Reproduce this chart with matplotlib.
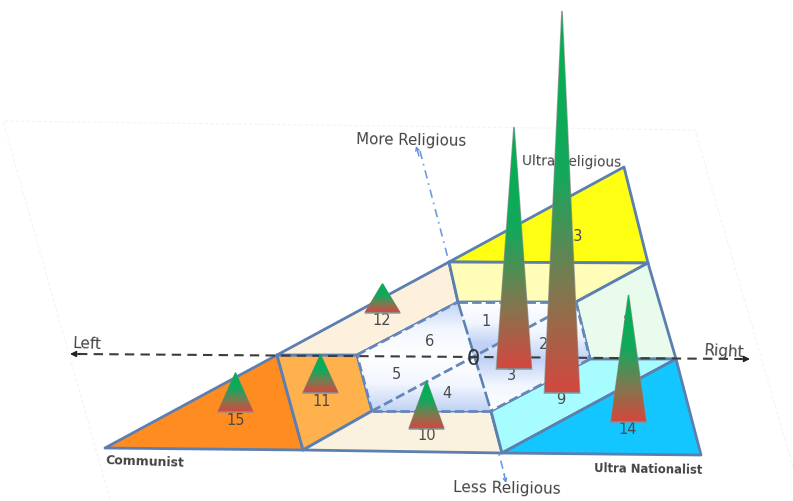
import numpy as np
import matplotlib
matplotlib.use("Agg")
import matplotlib.pyplot as plt
from matplotlib.colors import LinearSegmentedColormap
from matplotlib.patches import Polygon

# Party blocks on the tilted political map (x, y in canvas units, y down)
region_names = ["communist", "left", "low_left", "up_left", "ultra_rel", "rel", "right", "low_right", "nationalist"]
region_colors = ["#FF8C21", "#FFB14D", "#FAF2DE", "#FDF0DC", "#FFFF14", "#FFFDB8", "#E8FBEC", "#A6FCFF", "#14C6FF"]
region_shapes = [
    [(105, 449), (277, 356), (303, 451)],
    [(277, 356), (357, 356), (372, 412), (303, 451)],
    [(372, 412), (491, 412), (502, 454), (303, 451)],
    [(277, 356), (449, 263), (458, 303), (357, 356)],
    [(449, 263), (624, 168), (648, 264)],
    [(449, 263), (648, 264), (576, 303), (458, 303)],
    [(576, 303), (648, 264), (676, 360), (590, 360)],
    [(491, 412), (590, 360), (676, 360), (502, 454)],
    [(502, 454), (676, 360), (701, 456)],
]

# Central cells: outer corners around the origin, and where the gradient runs white -> blue
origin = (473, 358)
cell_shapes = [
    [(458, 303), (576, 303), origin],
    [(576, 303), (590, 360), origin],
    [origin, (590, 360), (491, 412)],
    [origin, (491, 412), (372, 412)],
    [(357, 356), origin, (372, 412)],
    [(357, 356), (458, 303), origin],
]
cell_gradients = [(302, 345), (305, 362), (412, 360), (360, 412), (356, 412), (356, 303)]

# Party cones
party_ids = [3, 9, 14, 10, 12, 11, 15]
cone_x = [514, 562, 628.5, 426.5, 382.5, 320.5, 235.5]
cone_base = [369, 393, 422, 429, 313, 393, 412]
cone_height = [242, 382, 127, 48, 29, 38, 39]

# Numbers written on the map
label_text = ["1", "2", "3", "4", "5", "6", "8", "9", "10", "11", "12", "13", "14", "15"]
label_x = [486, 544, 511, 447, 396, 430, 628, 561, 427, 322, 382, 574, 628, 236]
label_y = [322, 345, 376, 394, 375, 342, 322, 400, 436, 402, 321, 237, 430, 421]

CONE_HALF_WIDTH = 17.5
EDGE_DARK = "#5B7FB0"

fig = plt.figure(figsize=(7.93, 5.02), dpi=100)
ax = fig.add_axes([0, 0, 1, 1])
ax.set_xlim(0, 793)
ax.set_ylim(502, 0)
ax.set_autoscale_on(False)
ax.axis("off")


def vertical_fill(shape, cmap, y0, y1, z):
    """Fill a polygon with a colour ramp running from y0 to y1."""
    pts = np.array(shape, float)
    extent = (pts[:, 0].min(), pts[:, 0].max(), pts[:, 1].max(), pts[:, 1].min())
    rows = np.linspace(extent[3], extent[2], 160)
    ramp = np.clip((rows - y0) / (y1 - y0), 0, 1)[:, None]
    im = ax.imshow(ramp, cmap=cmap, vmin=0, vmax=1, extent=extent, origin="upper",
                   aspect="auto", zorder=z, interpolation="bilinear")
    im.set_clip_path(Polygon(pts, transform=ax.transData))
    ax.set_xlim(0, 793)
    ax.set_ylim(502, 0)


# Faint sheet on which the map lies
sheet_x = [110, 3, 695, 793]
sheet_y = [500, 122, 131, 468]
ax.plot(sheet_x, sheet_y, color="#F3F3F3", lw=0.8, ls=(0, (3, 2)), zorder=1)

for shape, color in zip(region_shapes, region_colors):
    ax.add_patch(Polygon(shape, closed=True, facecolor=color, edgecolor=EDGE_DARK, lw=2.0,
                         joinstyle="round", zorder=2))

cell_cmap = LinearSegmentedColormap.from_list("cell", ["#FFFFFF", "#F2F6FE", "#BFD2F5"])
for shape, (y0, y1) in zip(cell_shapes, cell_gradients):
    vertical_fill(shape, cell_cmap, y0, y1, 3)

# Dashed cell borders
for a, b in [((357, 356), (458, 303)), ((458, 303), (576, 303)), ((576, 303), (590, 360)),
             ((590, 360), (491, 412)), ((491, 412), (372, 412)), ((372, 412), (357, 356)),
             ((372, 412), (576, 303))]:
    ax.plot([a[0], b[0]], [a[1], b[1]], color="#6486B8", lw=2.0, ls=(0, (3.4, 1.5)), zorder=4)

# Political axes
ax.plot([78, 742], [355, 360], color="#3C3C3C", lw=1.5, ls=(0, (4.5, 3)), zorder=5)
ax.plot([420, 505], [152, 478], color="#6C9BE0", lw=1.2, ls=(0, (5, 3, 1, 3)), zorder=1.5)
ax.plot([458, 491], [303, 412], color=EDGE_DARK, lw=1.8, ls=(0, (6, 1.5)), zorder=4.5)
arrow = dict(arrowstyle="-|>", mutation_scale=9, shrinkA=0, shrinkB=0)
ax.annotate("", (70, 355), (80, 355), arrowprops=dict(color="#222222", **arrow), zorder=6)
ax.annotate("", (750, 360), (740, 360), arrowprops=dict(color="#222222", **arrow), zorder=6)
thin_arrow = dict(color="#5B8FDC", arrowstyle="->", mutation_scale=6, shrinkA=0, shrinkB=0)
ax.annotate("", (416, 147), (419, 157), arrowprops=thin_arrow, zorder=6)
ax.annotate("", (506, 484), (504, 475), arrowprops=thin_arrow, zorder=6)

# Numbers on the map sit under the cones
for s, x, y in zip(label_text, label_x, label_y):
    ax.text(x, y, s, ha="center", va="center", fontsize=10.5, color="#4A4A4A", zorder=6)
ax.text(origin[0], origin[1] + 1, "0", ha="center", va="center", fontsize=15, color="#333333", zorder=6)

# Cones with a thin soft shadow, green tip to red base
cone_cmap = LinearSegmentedColormap.from_list("cone", [(0, "#00B050"), (0.4, "#14A85C"), (0.72, "#80784F"), (1, "#D2483F")])
for x, base, h in zip(cone_x, cone_base, cone_height):
    tri = [(x, base - h), (x - CONE_HALF_WIDTH, base), (x + CONE_HALF_WIDTH, base)]
    ax.add_patch(Polygon([(px, py + 1.0) for px, py in tri], closed=True, facecolor="#7A7A7A", edgecolor="#8A8A8A",
                         lw=1.2, alpha=0.8, zorder=7))
    vertical_fill(tri, cone_cmap, base - h + 0.05 * h, base, 8)

# Axis and corner captions
captions = [
    ("Left", 87, 344.5, 11.0, -2, "#444444", "normal"),
    ("Right", 723.5, 351.5, 11.0, -3, "#444444", "normal"),
    ("More Religious", 411.5, 140, 10.8, -1, "#444444", "normal"),
    ("Less Religious", 507, 488.5, 11.0, -1, "#444444", "normal"),
    ("Ultra Religious", 572, 162, 9.8, -1, "#444444", "normal"),
    ("Communist", 144.5, 462, 9.0, -2, "#444444", "bold"),
    ("Ultra Nationalist", 648, 469, 8.4, -1, "#444444", "bold"),
]
for s, x, y, fs, rot, col, wt in captions:
    z = 6 if s == "Ultra Religious" else 9
    ax.text(x, y, s, ha="center", va="center", fontsize=fs, rotation=rot, color=col, fontweight=wt, zorder=z)

fig.savefig("out.png", dpi=100)
